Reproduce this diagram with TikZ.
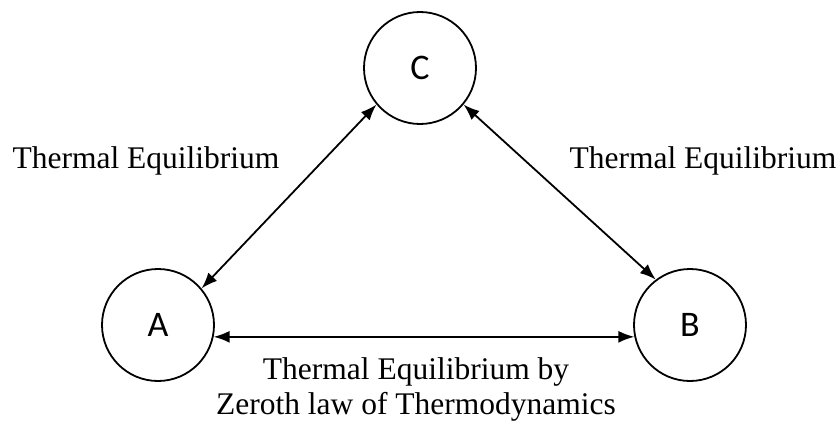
\documentclass[tikz,border=0pt]{standalone}
\usepackage{fontspec}
\setmainfont{Liberation Serif}
\newfontfamily\letterfont{Carlito}
\usepackage{tikz}
\usetikzlibrary{arrows.meta}

\begin{document}
\begin{tikzpicture}[x=1pt, y=-1pt,
    body/.style={draw, circle, line width=1.8pt, minimum size=112pt, inner sep=0pt, font=\letterfont\fontsize{36}{36}\selectfont},
    link/.style={{Latex[length=16pt,width=12pt]}-{Latex[length=16pt,width=12pt]}, line width=1.8pt},
    lbl/.style={font=\fontsize{31.5}{35}\selectfont, align=center}]
    \useasboundingbox (0,0) rectangle (837,420);

    \node[body] (C) at (420,68) {C};
    \node[body] (A) at (158,325) {A};
    \node[body] (B) at (690,325) {B};

    % A, B each in equilibrium with C
    \draw[link] (C.220) -- (A.40);
    \draw[link] (C.320) -- (B.127);
    \draw[link] (A.-12) -- (B.192);

    \node[lbl] (lblAC) at (146,161) {Thermal Equilibrium};
    \node[lbl] (lblBC) at (703,161) {Thermal Equilibrium};
    \node[lbl] (lblAB) at (416,389) {Thermal Equilibrium by\\Zeroth law of Thermodynamics};
\end{tikzpicture}
\end{document}
